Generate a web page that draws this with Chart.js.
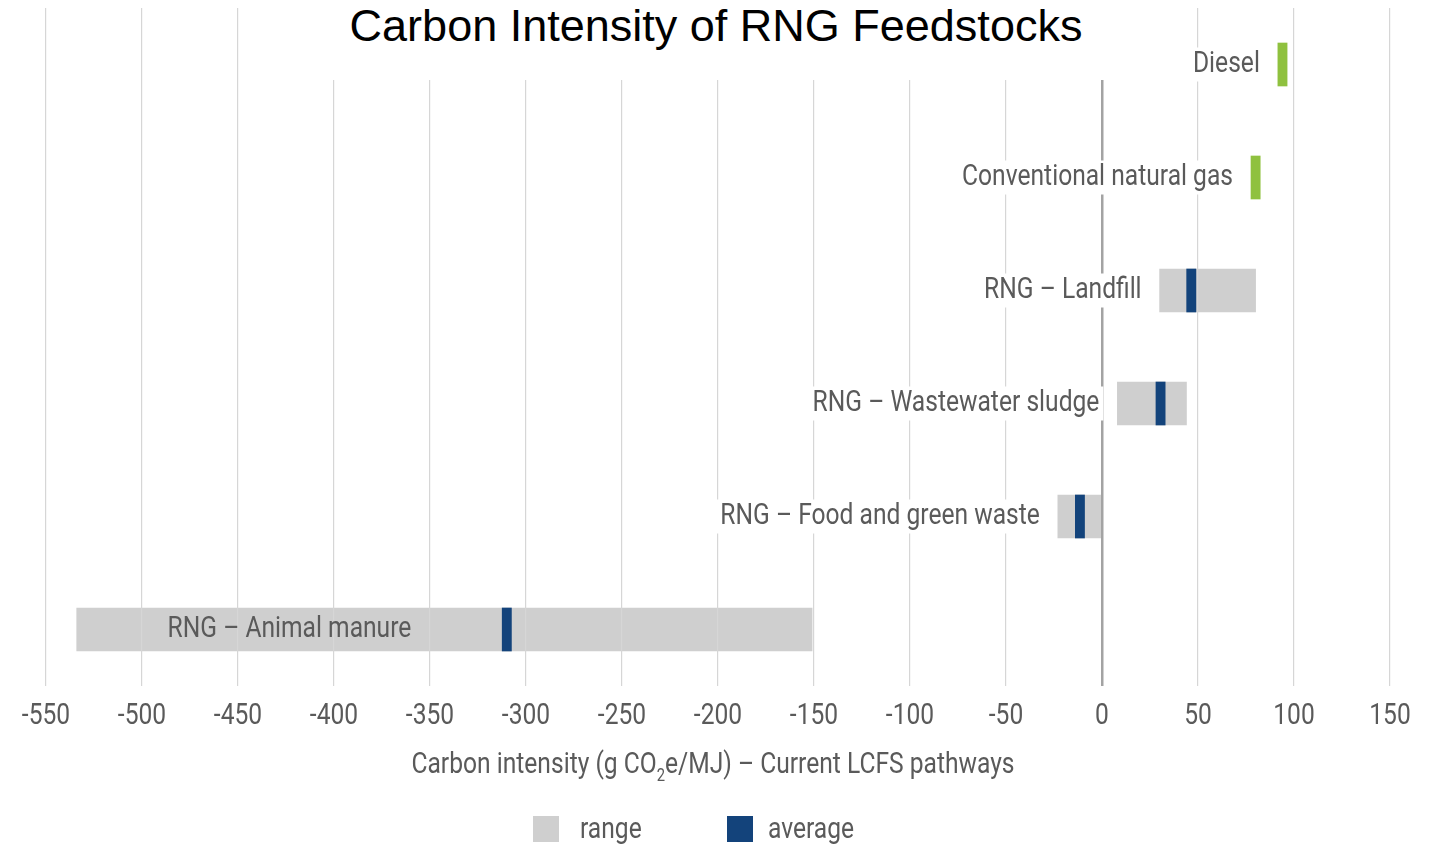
<!DOCTYPE html>
<html>
<head>
<meta charset="utf-8">
<script src="https://cdn.jsdelivr.net/npm/chart.js@4"></script>
<style>
  html, body { margin: 0; padding: 0; background: #fff; }
  #wrap { position: relative; width: 1429px; height: 844px; }
  #title {
    position: absolute; left: 296px; top: 0; width: 840px; height: 80px;
    background: #fff; text-align: center; line-height: 55px;
    font: 45px "Liberation Sans", Arial, sans-serif; color: #000;
  }
  .narrow {
    position: absolute; white-space: nowrap; color: #5a5a5a;
    font: 30px Roboto, sans-serif; line-height: 36px;
  }
  .narrow sub { font-size: 18px; vertical-align: -8px; line-height: 0; }
  #axisTitle { left: 713px; top: 745px; transform: translateX(-50%) scaleX(0.82); }
  .lbl { transform: scaleX(0.82); transform-origin: left center; }
  .box { position: absolute; width: 26px; height: 26px; top: 816px; }
</style>
</head>
<body>
<div id="wrap">
  <canvas id="ciChart" width="1429" height="844"></canvas>
  <div id="title">Carbon Intensity of RNG Feedstocks</div>
  <div id="axisTitle" class="narrow">Carbon intensity (g CO<sub>2</sub>e/MJ) – Current LCFS pathways</div>
  <span class="box" style="left:533px;background:#cfcfcf"></span>
  <span class="narrow lbl" style="left:580px;top:810px">range</span>
  <span class="box" style="left:727px;background:#13437b"></span>
  <span class="narrow lbl" style="left:768px;top:810px">average</span>
</div>
<script>
// Values (g CO2e/MJ)
const categories = [
  'Diesel',
  'Conventional natural gas',
  'RNG – Landfill',
  'RNG – Wastewater sludge',
  'RNG – Food and green waste',
  'RNG – Animal manure'
];
const rangeLow  = [null, null, 30, 8, -23, -534];
const rangeHigh = [null, null, 80, 44, 0, -151];
const averages  = [null, null, 46.5, 30.5, -11.5, -310];
const fuelValues = [94, 80, null, null, null, null];
const xTicks = [-550, -500, -450, -400, -350, -300, -250, -200, -150, -100, -50, 0, 50, 100, 150];

const markHalf = 2.4;
const textGray = '#5a5a5a';
const squeeze = 0.82; // the original uses a condensed face; squeeze Roboto to match
const labelFont = '30px Roboto, sans-serif';

const rangeData = categories.map((_, i) => rangeLow[i] == null ? null : [rangeLow[i], rangeHigh[i]]);
const avgData = averages.map(v => v == null ? null : [v - markHalf, v + markHalf]);
const fuelData = fuelValues.map(v => v == null ? null : [v - markHalf, v + markHalf]);

function narrowText(ctx, text, x, y, align) {
  ctx.save();
  ctx.translate(x, y);
  ctx.scale(squeeze, 1);
  ctx.textAlign = align;
  ctx.fillText(text, 0, 0);
  ctx.restore();
}

// x tick labels, drawn squeezed under the axis (kept inside the left edge)
const tickLabels = {
  id: 'tickLabels',
  afterDraw(chart) {
    const { ctx, chartArea, scales: { x } } = chart;
    ctx.save();
    ctx.font = labelFont;
    ctx.fillStyle = textGray;
    ctx.textBaseline = 'middle';
    xTicks.forEach(v => {
      const half = ctx.measureText(String(v)).width * squeeze / 2;
      const cx = Math.max(x.getPixelForValue(v), 10 + half);
      narrowText(ctx, String(v), cx, chartArea.bottom + 30, 'center');
    });
    ctx.restore();
  }
};

// category names drawn next to (or inside) each bar
const rowLabels = {
  id: 'rowLabels',
  afterDraw(chart) {
    const { ctx, scales: { x, y } } = chart;
    ctx.save();
    ctx.font = labelFont;
    ctx.textBaseline = 'middle';
    categories.forEach((name, i) => {
      const cy = y.getPixelForValue(i);
      const low = rangeLow[i] != null ? rangeLow[i] : fuelValues[i] - markHalf;
      const left = x.getPixelForValue(low);
      const w = ctx.measureText(name).width * squeeze;
      if (averages[i] != null && x.getPixelForValue(averages[i] - markHalf) - left > w + 60) {
        ctx.fillStyle = textGray;
        narrowText(ctx, name, (left + x.getPixelForValue(averages[i] - markHalf)) / 2, cy, 'center');
      } else {
        const right = left - 18;
        ctx.fillStyle = '#fff';
        ctx.fillRect(right - w - 4, cy - 17, w + 8, 34);
        ctx.fillStyle = textGray;
        narrowText(ctx, name, right, cy, 'right');
      }
    });
    ctx.restore();
  }
};

new Chart(document.getElementById('ciChart'), {
  type: 'bar',
  data: {
    labels: categories,
    datasets: [
      { label: 'range', data: rangeData, backgroundColor: '#cfcfcf', grouped: false, barThickness: 43, order: 3 },
      { label: 'average', data: avgData, backgroundColor: '#13437b', grouped: false, barThickness: 43, order: 1 },
      { label: 'fuel', data: fuelData, backgroundColor: '#8fc13f', grouped: false, barThickness: 43, order: 2 }
    ]
  },
  options: {
    indexAxis: 'y',
    responsive: false,
    animation: false,
    layout: { padding: { left: 46, right: 39, top: 8, bottom: 158 } },
    plugins: {
      legend: { display: false },
      title: { display: false },
      tooltip: { enabled: false }
    },
    scales: {
      x: {
        min: -550,
        max: 150,
        afterBuildTicks: scale => { scale.ticks = xTicks.map(v => ({ value: v })); },
        border: { display: false },
        grid: {
          z: 1,
          drawTicks: false,
          color: ctx => ctx.tick && ctx.tick.value === 0 ? '#a3a3a3' : '#d6d6d6',
          lineWidth: ctx => ctx.tick && ctx.tick.value === 0 ? 2.5 : 1.2
        },
        ticks: { display: false }
      },
      y: {
        display: false
      }
    }
  },
  plugins: [rowLabels, tickLabels]
});
</script>
</body>
</html>
